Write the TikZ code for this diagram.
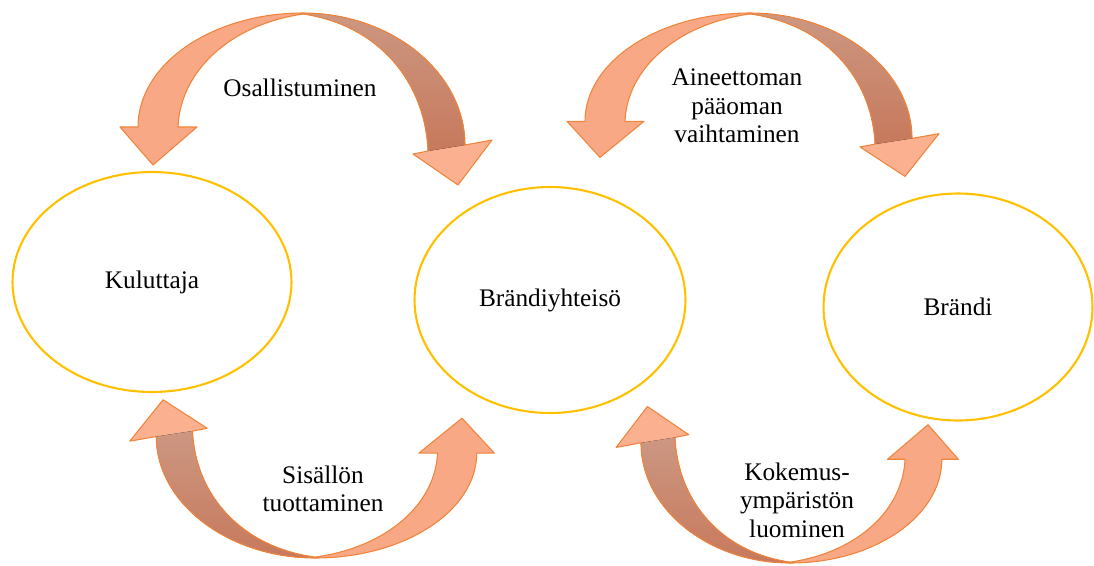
\documentclass[tikz,border=0pt]{standalone}
\usepackage{fontspec}
\setmainfont{Liberation Serif}
\usepackage{tikz}
\usetikzlibrary{shapes.geometric}
\definecolor{ringgold}{HTML}{FFC000}
\definecolor{arrowedge}{HTML}{F0843A}
\definecolor{lightsalmon}{HTML}{F9A886}
\definecolor{headsalmon}{HTML}{FBB08F}
\definecolor{brownA}{HTML}{CC9782}
\definecolor{brownB}{HTML}{C7795C}
\tikzset{
  ring/.style={ellipse, draw=ringgold, line width=1.2pt, align=center, font=\fontsize{14.4}{16.2}\selectfont},
  lbl/.style={align=center, font=\fontsize{14.4}{16.2}\selectfont},
  arrowline/.style={draw=arrowedge, line width=0.6pt, line join=round}
}
\newcommand{\lightarc}{(0,0) .. controls (-91,0) and (-165,51) .. (-165,114) -- (-183,114) -- (-150,152) -- (-106,114) -- (-125,114) .. controls (-123,60) and (-75,12) .. (0,1) -- cycle}
\newcommand{\darkarc}{(0,0) .. controls (89,0) and (162,60) .. (162,132) -- (189,127) -- (155,172) -- (110,141) -- (125,138) .. controls (122,68) and (75,12) .. (0,1) -- cycle}
\newcommand{\darkshaft}{(0,0) .. controls (89,0) and (162,60) .. (162,132) -- (125,138) .. controls (122,68) and (75,12) .. (0,1) -- cycle}

\begin{document}
\begin{tikzpicture}[x=0.02cm,y=-0.02cm]
    \useasboundingbox (0,0) rectangle (1094,565);
    \foreach \ox/\oy/\sx/\sy in {303/13/1/1, 750/13/1/0.95, 315/558/-0.98/-0.92, 790/563/-0.92/-0.91} {
      \begin{scope}[shift={(\ox,\oy)},xscale=\sx,yscale=\sy]
        \fill[headsalmon] \darkarc;
        \fill[top color=brownA,bottom color=brownB] \darkshaft;
        \draw[arrowline] \darkarc;
        \filldraw[arrowline,fill=lightsalmon] \lightarc;
      \end{scope}
    }
    \node[ring,minimum width=5.58cm,minimum height=4.4cm] (kuluttaja) at (152,282) {Kuluttaja};
    \node[ring,minimum width=5.42cm,minimum height=4.52cm] (yhteiso) at (550,300) {Brändiyhteisö};
    \node[ring,minimum width=5.38cm,minimum height=4.54cm] (brandi) at (958,307) {Brändi};
    \node[lbl] (osallistuminen) at (300,88) {Osallistuminen};
    \node[lbl] (vaihtaminen) at (737,106) {Aineettoman\\pääoman\\vaihtaminen};
    \node[lbl] (tuottaminen) at (323,489) {Sisällön\\tuottaminen};
    \node[lbl] (luominen) at (797,500) {Kokemus-\\ympäristön\\luominen};
\end{tikzpicture}
\end{document}
